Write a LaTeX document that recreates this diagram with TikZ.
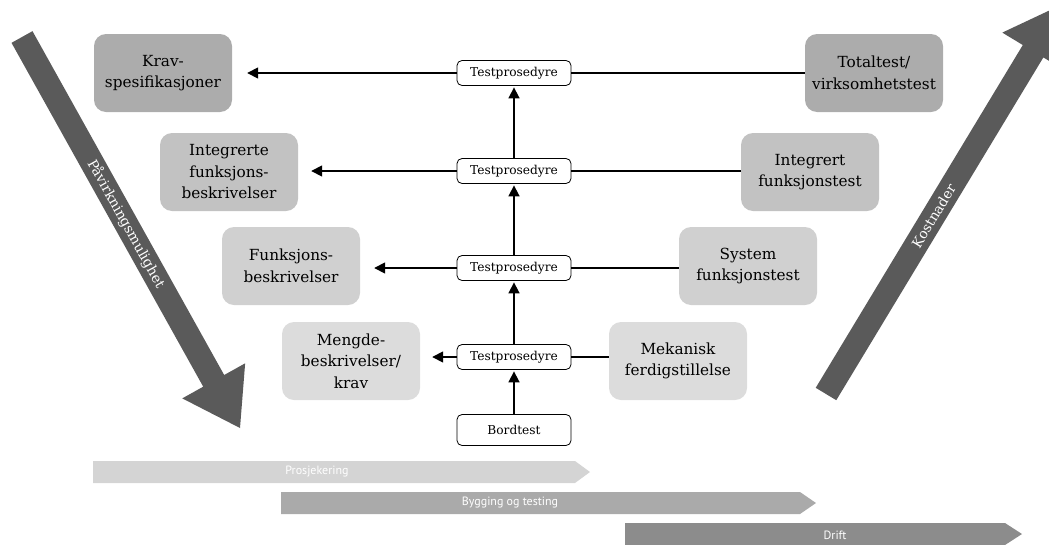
\documentclass[tikz,border=0pt]{standalone}
\usepackage{fontspec}
\setmainfont{DejaVu Serif}
\newfontfamily\barfont{PT Sans}
\usetikzlibrary{calc,arrows.meta}
\definecolor{bigarrow}{RGB}{90,90,90}
\definecolor{lvA}{RGB}{172,172,172}
\definecolor{lvB}{RGB}{194,194,194}
\definecolor{lvC}{RGB}{208,208,208}
\definecolor{lvD}{RGB}{220,220,220}
\definecolor{barA}{RGB}{212,212,212}
\definecolor{barB}{RGB}{170,170,170}
\definecolor{barC}{RGB}{140,140,140}
\tikzset{
  box/.style={rounded corners=12pt, minimum width=138pt, minimum height=78pt,
    align=center, inner sep=0pt, font=\fontsize{15.3}{21.5}\selectfont},
  tp/.style={draw, rounded corners=5pt, fill=white, minimum width=114pt,
    minimum height=25pt, inner sep=0pt, line width=0.8pt,
    font=\fontsize{12.2}{14}\selectfont},
  arr/.style={line width=1.6pt, -{Triangle[length=11pt,width=11pt]}},
  lnk/.style={line width=1.6pt},
  barlabel/.style={text=white, font=\barfont\fontsize{12}{14}\selectfont, inner sep=0pt},
  biglabel/.style={text=white, font=\fontsize{13.8}{15}\selectfont, inner sep=0pt, sloped},
}
\begin{document}
\begin{tikzpicture}[x=1pt,y=-1pt]
\useasboundingbox (0,0) rectangle (1049,544);
\clip (0,0) rectangle (1049,544);

% big arrows
\coordinate (LA) at (22,37);
\coordinate (LB) at (240,428);
\coordinate (LC) at ($(LB)!54pt!(LA)$);
\fill[bigarrow] ($(LA)!12pt!90:(LB)$) -- ($(LC)!12pt!-90:(LA)$) -- ($(LC)!36pt!-90:(LA)$) -- (LB)
  -- ($(LC)!36pt!90:(LA)$) -- ($(LC)!12pt!90:(LA)$) -- ($(LA)!12pt!-90:(LB)$) -- cycle;
\path (LA) -- (LB) node[biglabel, pos=0.478] (lbl1) {Påvirkningsmulighet};

\coordinate (RA) at (826,394);
\coordinate (RB) at (1061,5);
\coordinate (RC) at ($(RB)!54pt!(RA)$);
\fill[bigarrow] ($(RA)!12pt!90:(RB)$) -- ($(RC)!12pt!-90:(RA)$) -- ($(RC)!36pt!-90:(RA)$) -- (RB)
  -- ($(RC)!36pt!90:(RA)$) -- ($(RC)!12pt!90:(RA)$) -- ($(RA)!12pt!-90:(RB)$) -- cycle;
\path (RA) -- (RB) node[biglabel, pos=0.458] (lbl2) {Kostnader};

% left boxes
\node[box, fill=lvA] (krav) at (163,73) {Krav-\\spesifikasjoner};
\node[box, fill=lvB] (intb) at (229,172) {Integrerte\\funksjons-\\beskrivelser};
\node[box, fill=lvC] (funk) at (291,266) {Funksjons-\\beskrivelser};
\node[box, fill=lvD] (meng) at (351,361) {Mengde-\\beskrivelser/\\krav};
% right boxes
\node[box, fill=lvA] (total) at (874,73) {Totaltest/\\virksomhetstest};
\node[box, fill=lvB] (intt) at (810,172) {Integrert\\funksjonstest};
\node[box, fill=lvC] (syst) at (748,266) {System\\funksjonstest};
\node[box, fill=lvD] (mek) at (678,361) {Mekanisk\\ferdigstillelse};

% test procedures
\node[tp] (t1) at (514,73) {Testprosedyre};
\node[tp] (t2) at (514,171) {Testprosedyre};
\node[tp] (t3) at (514,268) {Testprosedyre};
\node[tp] (t4) at (514,357) {Testprosedyre};
\node[tp, minimum height=31pt] (bord) at (514,430) {Bordtest};

% connectors
\draw[arr, shorten >=15pt] (t1.west) -- (t1.west -| krav.east);
\draw[arr, shorten >=13pt] (t2.west) -- (t2.west -| intb.east);
\draw[arr, shorten >=14pt] (t3.west) -- (t3.west -| funk.east);
\draw[arr, shorten >=12pt] (t4.west) -- (t4.west -| meng.east);
\draw[lnk] (t1.east) -- (t1.east -| total.west);
\draw[lnk] (t2.east) -- (t2.east -| intt.west);
\draw[lnk] (t3.east) -- (t3.east -| syst.west);
\draw[lnk] (t4.east) -- (t4.east -| mek.west);
\draw[arr, shorten >=1.5pt] (bord.north) -- (t4.south);
\draw[arr, shorten >=1.5pt] (t4.north) -- (t3.south);
\draw[arr, shorten >=1.5pt] (t3.north) -- (t2.south);
\draw[arr, shorten >=1.5pt] (t2.north) -- (t1.south);

% phase bars
\fill[barA] (93,461) -- (575,461) -- (590,472) -- (575,483) -- (93,483) -- cycle;
\node[barlabel] (p1) at (317,472) {Prosjekering};
\fill[barB] (281,492) -- (800,492) -- (816,503) -- (800,514) -- (281,514) -- cycle;
\node[barlabel] (p2) at (510,503) {Bygging og testing};
\fill[barC] (625,523) -- (1005,523) -- (1022,534) -- (1005,545) -- (625,545) -- cycle;
\node[barlabel] (p3) at (835,535) {Drift};
\end{tikzpicture}
\end{document}
